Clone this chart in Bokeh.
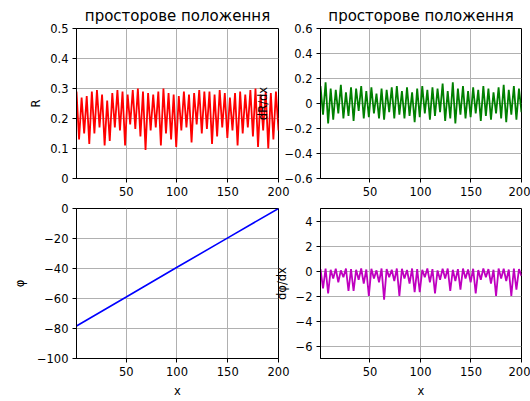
from bokeh.plotting import figure
from bokeh.layouts import column, row
from bokeh.models import FixedTicker, Range1d
from bokeh.embed import file_html
from bokeh.resources import INLINE
import numpy as np

# ---- data ----
x_osc = np.linspace(1, 200, 80)

R_vals = [0.29, 0.13, 0.27, 0.15, 0.275, 0.115, 0.29, 0.15, 0.295, 0.17,
          0.28, 0.11, 0.26, 0.125, 0.285, 0.17, 0.295, 0.16, 0.29, 0.11,
          0.28, 0.18, 0.295, 0.165, 0.30, 0.14, 0.29, 0.095, 0.285, 0.16,
          0.28, 0.17, 0.29, 0.11, 0.30, 0.15, 0.285, 0.13, 0.28, 0.105,
          0.275, 0.16, 0.29, 0.17, 0.28, 0.12, 0.285, 0.18, 0.295, 0.15,
          0.29, 0.165, 0.29, 0.115, 0.28, 0.14, 0.295, 0.17, 0.285, 0.135,
          0.27, 0.16, 0.285, 0.11, 0.29, 0.15, 0.28, 0.17, 0.295, 0.14,
          0.30, 0.105, 0.28, 0.16, 0.29, 0.10, 0.285, 0.13, 0.29, 0.16]

dRdx_vals = [0.14, -0.09, 0.17, -0.16, 0.12, -0.13, 0.11, -0.08, 0.15, -0.12,
             0.09, -0.10, 0.13, -0.14, 0.12, -0.06, 0.14, -0.12, 0.10, -0.11,
             0.13, -0.08, 0.08, -0.12, 0.12, -0.13, 0.11, -0.07, 0.13, -0.12,
             0.14, -0.09, 0.10, -0.12, 0.13, -0.10, 0.09, -0.15, 0.12, -0.11,
             0.14, -0.08, 0.11, -0.13, 0.13, -0.10, 0.12, -0.07, 0.16, -0.14,
             0.10, -0.12, 0.17, -0.16, 0.12, -0.09, 0.14, -0.12, 0.10, -0.11,
             0.13, -0.08, 0.11, -0.14, 0.14, -0.10, 0.12, -0.13, 0.09, -0.08,
             0.13, -0.12, 0.15, -0.15, 0.11, -0.09, 0.14, -0.13, 0.12, -0.07]

x_phase = [1, 50, 100, 150, 200]
phi_vals = [-78.3, -59.0, -39.2, -19.6, 0.0]

dphidx_vals = [0.15, -1.4, 0.20, -1.8, 0.10, -0.6, 0.18, -0.9, 0.05, -0.5,
               0.20, -1.6, 0.15, -1.6, 0.10, -0.7, 0.20, -1.0, 0.12, -2.0,
               0.18, -0.6, 0.05, -0.9, 0.20, -2.3, 0.15, -0.5, 0.10, -0.8,
               0.20, -2.0, 0.18, -0.6, 0.08, -1.0, 0.20, -1.7, 0.15, -1.7,
               0.10, -0.5, 0.20, -0.9, 0.15, -1.8, 0.05, -0.7, 0.18, -0.6,
               0.20, -1.6, 0.10, -0.8, 0.15, -1.5, 0.20, -0.6, 0.12, -0.9,
               0.18, -1.8, 0.08, -0.7, 0.20, -0.5, 0.15, -1.0, 0.10, -2.0,
               0.20, -0.6, 0.18, -0.8, 0.12, -2.0, 0.20, -1.5, 0.15, -0.4]

x_ticks = [50, 100, 150, 200]
title_text = "просторове положення"

FONT = "DejaVu Sans"


def make(width, height, yr, yticks, ylabel, xlabel, title, bl, br, bt, bb,
         ylab_standoff, margin=None):
    kw = dict(width=width, height=height, output_backend="svg",
              toolbar_location=None, x_range=Range1d(1, 200),
              y_range=Range1d(*yr), min_border_left=bl, min_border_right=br,
              min_border_top=bt, min_border_bottom=bb,
              border_fill_color=None, background_fill_color="white")
    if margin is not None:
        kw["margin"] = margin
    p = figure(**kw)
    if title:
        p.title.text = title
        p.title.align = "center"
        p.title.text_font = FONT
        p.title.text_font_style = "normal"
        p.title.text_font_size = "15px"
        p.title.text_color = "black"
        p.title.standoff = 7
    p.outline_line_color = "black"
    p.outline_line_width = 1
    p.outline_line_alpha = 1
    for ax, ticks in ((p.xaxis[0], x_ticks), (p.yaxis[0], yticks)):
        ax.ticker = FixedTicker(ticks=ticks)
        ax.major_label_text_font = FONT
        ax.major_label_text_font_size = "11.5px"
        ax.major_label_text_color = "black"
        ax.axis_label_text_font = FONT
        ax.axis_label_text_font_size = "11.5px"
        ax.axis_label_text_font_style = "normal"
        ax.axis_label_text_color = "black"
        ax.axis_line_color = "black"
        ax.major_tick_line_color = "black"
        ax.major_tick_in = 0
        ax.major_tick_out = 4
        ax.minor_tick_line_color = None
        ax.major_label_standoff = 4
    p.xaxis[0].major_label_standoff = 4
    p.yaxis[0].axis_label = ylabel
    p.yaxis[0].axis_label_standoff = ylab_standoff
    if xlabel:
        p.xaxis[0].axis_label = xlabel
        p.xaxis[0].axis_label_standoff = 5
    p.xgrid.ticker = FixedTicker(ticks=x_ticks)
    p.ygrid.ticker = FixedTicker(ticks=yticks)
    for g in (p.xgrid, p.ygrid):
        g.grid_line_color = "#b0b0b0"
        g.grid_line_width = 1
    return p


tl = make(290, 200, (0, 0.5), [0.0, 0.1, 0.2, 0.3, 0.4, 0.5], "R", None,
          title_text, 76, 12, 28, 22, 4)
tl.line(x_osc, R_vals, color="red", line_width=1.8)

tr = make(280, 200, (-0.6, 0.6), [-0.6, -0.4, -0.2, 0.0, 0.2, 0.4, 0.6],
          "dR/dx", None, title_text, 70, 9, 28, 22, 12, margin=(0, 0, 0, -40))
tr.line(x_osc, dRdx_vals, color="green", line_width=1.8)

bl = make(290, 201, (-100, 0), [-100, -80, -60, -40, -20, 0], "φ", "x",
          None, 76, 12, 8, 43, 7)
bl.line(x_phase, phi_vals, color="blue", line_width=1.6)

br = make(280, 201, (-7, 5), [-6, -4, -2, 0, 2, 4], "dφ/dx", "x",
          None, 70, 9, 8, 43, 4, margin=(0, 0, 0, -40))
br.line(x_osc, dphidx_vals, color="#bf00bf", line_width=1.8)

layout = column(row(tl, tr), row(bl, br))
open("out.html", "w").write(file_html(layout, INLINE))
